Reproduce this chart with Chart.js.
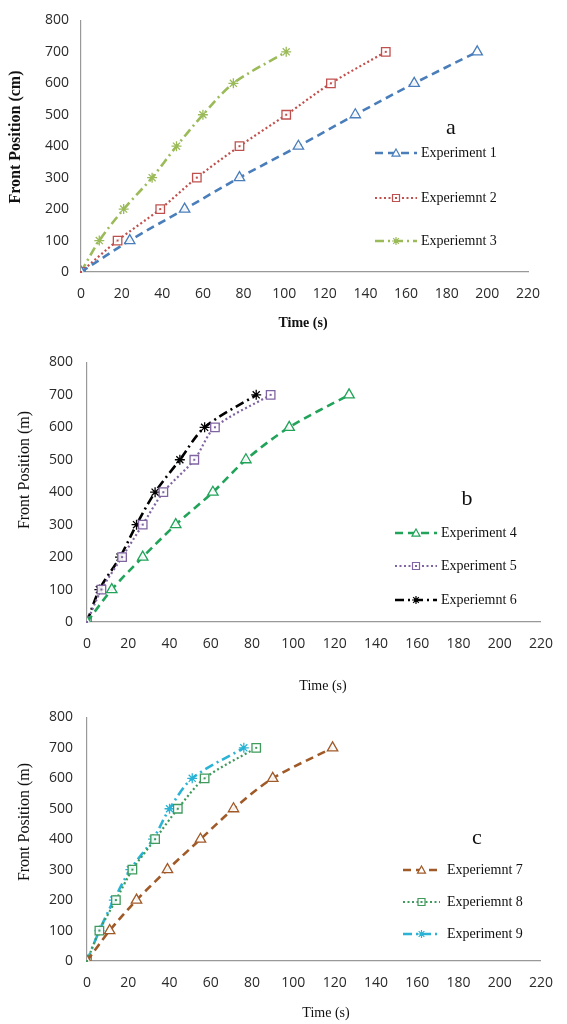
<!DOCTYPE html>
<html><head><meta charset="utf-8">
<script src="https://cdn.jsdelivr.net/npm/chart.js@4/dist/chart.umd.min.js"></script>
<style>
html,body{margin:0;padding:0;background:#fff;width:567px;height:1024px;overflow:hidden}
.p{position:absolute;left:0;width:567px}
</style></head><body>
<div class="p" id="pa" style="top:0;height:340px"><canvas id="ca"></canvas></div>
<div class="p" id="pb" style="top:340px;height:355px"><canvas id="cb"></canvas></div>
<div class="p" id="pc" style="top:695px;height:329px"><canvas id="cc"></canvas></div>
<script>
// ---- data ----
const frontPosition = [0, 100, 200, 300, 400, 500, 600, 700];
const exp1Time = [0, 24, 51, 78, 107, 135, 164, 195];
const exp2Time = [0, 18, 39, 57, 78, 101, 123, 150];
const exp3Time = [0, 9, 21, 35, 47, 60, 75, 101];
const exp4Time = [0, 12, 27, 43, 61, 77, 98, 127];
const exp5Time = [0, 7, 17, 27, 37, 52, 62, 89];
const exp6Time = [0, 6, 16, 24, 33, 45, 57, 82];
const exp7Time = [0, 11, 24, 39, 55, 71, 90, 119];
const exp8Time = [0, 6, 14, 22, 33, 44, 57, 82];
const exp9Time = [0, 6, 13, 21, 32, 40, 51, 76];
const namesA = ['Experiment 1', 'Experiemnt 2', 'Experiemnt 3'];
const namesB = ['Experiment 4', 'Experiment 5', 'Experiemnt 6'];
const namesC = ['Experiemnt 7', 'Experiemnt 8', 'Experiment 9'];
const xMin = 0, xMax = 220, xStep = 20;
const yMin = 0, yMax = 800, yStep = 100;

const DASH = [8, 5], DOT = [2, 2.5], DASHDOT = [9, 4, 2, 4];

function pts(times) { return times.map((t, i) => ({x: t, y: frontPosition[i]})); }

function ds(label, times, color, dash, style, radius) {
  return {
    label, data: pts(times), borderColor: color, borderWidth: dash === DOT ? 2.2 : 2.6,
    borderDash: dash, pointStyle: style, pointRadius: radius, pointHoverRadius: radius,
    pointBorderColor: color, pointBackgroundColor: 'rgba(255,255,255,0.9)', pointBorderWidth: 1.3,
    tension: 0.3, fill: false
  };
}

function drawMarker(ctx, style, x, y, r, color) {
  ctx.save();
  ctx.setLineDash([]);
  ctx.strokeStyle = color; ctx.fillStyle = '#fff'; ctx.lineWidth = 1.2;
  ctx.beginPath();
  if (style === 'triangle') {
    ctx.moveTo(x, y - r); ctx.lineTo(x + r, y + r * 0.8); ctx.lineTo(x - r, y + r * 0.8); ctx.closePath();
    ctx.fill(); ctx.stroke();
  } else if (style === 'rect') {
    ctx.rect(x - r, y - r, 2 * r, 2 * r); ctx.fill(); ctx.stroke();
    ctx.fillStyle = color; ctx.fillRect(x - 1, y - 1, 2, 2);
  } else {
    for (let k = 0; k < 4; k++) {
      const a = k * Math.PI / 4;
      ctx.moveTo(x - r * Math.cos(a), y - r * Math.sin(a));
      ctx.lineTo(x + r * Math.cos(a), y + r * Math.sin(a));
    }
    ctx.stroke();
  }
  ctx.restore();
}

const decoPlugin = {
  id: 'panelDeco',
  afterDatasetsDraw(chart) {
    const ctx = chart.ctx;
    chart.data.datasets.forEach((d, i) => {
      if (d.pointStyle !== 'rect') return;
      chart.getDatasetMeta(i).data.forEach(p => {
        ctx.save(); ctx.fillStyle = d.borderColor; ctx.fillRect(p.x - 1, p.y - 1, 2, 2); ctx.restore();
      });
    });
  },
  afterDraw(chart, args, o) {
    const ctx = chart.ctx, T = o.top;
    ctx.save();
    ctx.fillStyle = '#111';
    // y title
    ctx.save();
    ctx.translate(o.yTitle[0], o.yTitle[1] - T);
    ctx.rotate(-Math.PI / 2);
    ctx.font = (o.bold ? 'bold ' : '') + '16px "Liberation Serif"';
    ctx.textAlign = 'center'; ctx.textBaseline = 'middle';
    ctx.fillText(o.yTitleText, 0, 0);
    ctx.restore();
    // x title
    ctx.font = (o.bold ? 'bold ' : '') + '14px "Liberation Serif"';
    ctx.textAlign = 'center'; ctx.textBaseline = 'middle';
    ctx.fillText('Time (s)', o.xTitle[0], o.xTitle[1] - T);
    // panel letter
    ctx.font = '22px "Liberation Serif"';
    ctx.fillText(o.letter, o.letterPos[0], o.letterPos[1] - T);
    // legend
    chart.data.datasets.forEach((d, i) => {
      const y = o.rows[i] - T;
      ctx.save();
      ctx.strokeStyle = d.borderColor; ctx.lineWidth = d.borderWidth;
      ctx.setLineDash(d.borderDash);
      ctx.beginPath(); ctx.moveTo(o.lx0, y); ctx.lineTo(o.lx1, y); ctx.stroke();
      ctx.restore();
      drawMarker(ctx, d.pointStyle, (o.lx0 + o.lx1) / 2, y, d.pointStyle === 'rect' ? 3.5 : 4, d.borderColor);
      ctx.fillStyle = '#111';
      ctx.font = '14px "Liberation Serif"';
      ctx.textAlign = 'left'; ctx.textBaseline = 'middle';
      ctx.fillText(d.label, o.tx, y);
    });
    ctx.restore();
  }
};

function makeChart(id, top, height, area, datasets, deco) {
  deco.top = top;
  return new Chart(document.getElementById(id), {
    type: 'line',
    data: {datasets},
    plugins: [decoPlugin],
    options: {
      responsive: true, maintainAspectRatio: false, animation: false,
      devicePixelRatio: 1,
      layout: {padding: {top: area.top - top, right: 567 - area.right, left: 0, bottom: 0}},
      plugins: {legend: {display: false}, tooltip: {enabled: false}, panelDeco: deco},
      scales: {
        x: {
          type: 'linear', min: xMin, max: xMax,
          ticks: {stepSize: xStep, color: '#2a2a2a', padding: 14, font: {family: 'Open Sans', size: 14}, maxRotation: 0},
          grid: {display: false, drawTicks: false},
          border: {display: true, color: '#999', width: 1.2},
          afterFit: s => { s.height = top + height - area.bottom; }
        },
        y: {
          type: 'linear', min: yMin, max: yMax,
          ticks: {stepSize: yStep, color: '#2a2a2a', padding: area.left === 81 ? 12 : 14, font: {family: 'Open Sans', size: 14}},
          grid: {display: false, drawTicks: false},
          border: {display: true, color: '#999', width: 1.2},
          afterFit: s => { s.width = area.left; }
        }
      }
    }
  });
}

makeChart('ca', 0, 340, {left: 81, right: 528, top: 16, bottom: 272}, [
  ds(namesA[0], exp1Time, '#4a7ebb', DASH, 'triangle', 6),
  ds(namesA[1], exp2Time, '#c0504d', DOT, 'rect', 6),
  ds(namesA[2], exp3Time, '#9bbb59', DASHDOT, 'star', 5)
], {yTitle: [16, 137], yTitleText: 'Front Position (cm)', bold: true, xTitle: [303, 323],
    letter: 'a', letterPos: [451, 128], rows: [153, 198, 241], lx0: 375, lx1: 417, tx: 421});

makeChart('cb', 340, 355, {left: 87, right: 547, top: 353, bottom: 622}, [
  ds(namesB[0], exp4Time, '#22a35a', DASH, 'triangle', 6),
  ds(namesB[1], exp5Time, '#8064a2', DOT, 'rect', 6),
  ds(namesB[2], exp6Time, '#000000', DASHDOT, 'star', 5)
], {yTitle: [25, 470], yTitleText: 'Front Position (m)', bold: false, xTitle: [323, 686],
    letter: 'b', letterPos: [467, 499], rows: [533, 566, 600], lx0: 395, lx1: 437, tx: 441});

makeChart('cc', 695, 329, {left: 87, right: 547, top: 712, bottom: 961}, [
  ds(namesC[0], exp7Time, '#a05a28', DASH, 'triangle', 6),
  ds(namesC[1], exp8Time, '#3f9a5c', DOT, 'rect', 6),
  ds(namesC[2], exp9Time, '#2ab3d4', DASHDOT, 'star', 5)
], {yTitle: [25, 822], yTitleText: 'Front Position (m)', bold: false, xTitle: [326, 1013],
    letter: 'c', letterPos: [477, 838], rows: [870, 902, 934], lx0: 403, lx1: 440, tx: 447});
</script>
</body></html>
